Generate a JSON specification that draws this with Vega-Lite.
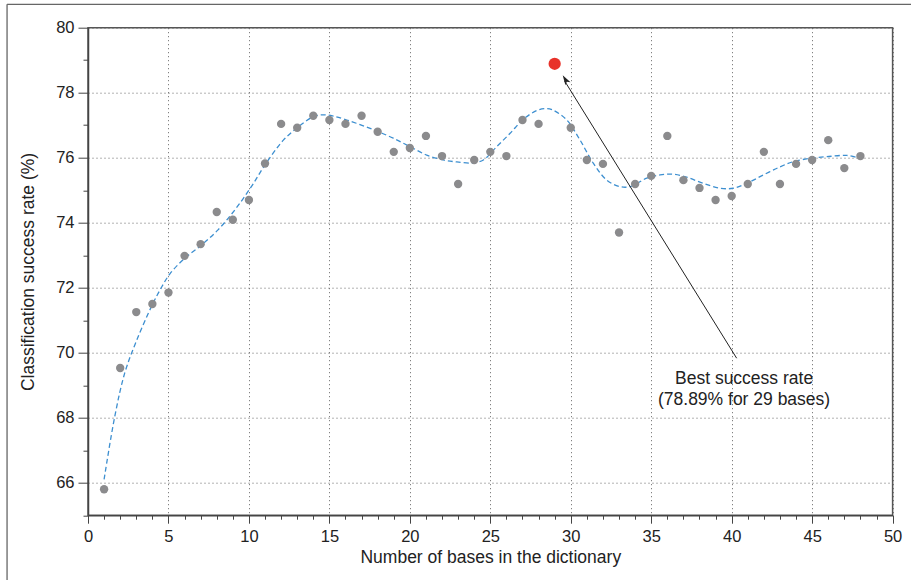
{
  "$schema": "https://vega.github.io/schema/vega-lite/v6.json",
  "width": 804.6,
  "height": 487.5,
  "autosize": "none",
  "padding": {"left": 88, "top": 27.7, "right": 18.4, "bottom": 64.8},
  "background": "white",
  "config": {
    "font": "Liberation Sans",
    "view": {"stroke": "#555", "strokeWidth": 1.5},
    "axis": {
      "grid": true, "gridDash": [1, 3], "gridColor": "#666", "gridWidth": 1,
      "domainColor": "#444", "domainWidth": 1.5,
      "tickColor": "#444", "tickWidth": 1,
      "labelFontSize": 16.5, "labelColor": "#222",
      "labelFlush": false, "labelOverlap": false,
      "titleFontSize": 17.5, "titleFontWeight": "normal", "titleColor": "#222"
    }
  },
  "datasets": {
    "rates": [
      {"bases": 1, "rate": 65.80}, {"bases": 2, "rate": 69.53}, {"bases": 3, "rate": 71.25},
      {"bases": 4, "rate": 71.50}, {"bases": 5, "rate": 71.85}, {"bases": 6, "rate": 72.98},
      {"bases": 7, "rate": 73.34}, {"bases": 8, "rate": 74.33}, {"bases": 9, "rate": 74.09},
      {"bases": 10, "rate": 74.70}, {"bases": 11, "rate": 75.82}, {"bases": 12, "rate": 77.04},
      {"bases": 13, "rate": 76.92}, {"bases": 14, "rate": 77.29}, {"bases": 15, "rate": 77.16},
      {"bases": 16, "rate": 77.04}, {"bases": 17, "rate": 77.29}, {"bases": 18, "rate": 76.80},
      {"bases": 19, "rate": 76.18}, {"bases": 20, "rate": 76.30}, {"bases": 21, "rate": 76.67},
      {"bases": 22, "rate": 76.05}, {"bases": 23, "rate": 75.19}, {"bases": 24, "rate": 75.93},
      {"bases": 25, "rate": 76.18}, {"bases": 26, "rate": 76.05}, {"bases": 27, "rate": 77.16},
      {"bases": 28, "rate": 77.04}, {"bases": 29, "rate": 78.89}, {"bases": 30, "rate": 76.92},
      {"bases": 31, "rate": 75.93}, {"bases": 32, "rate": 75.81}, {"bases": 33, "rate": 73.70},
      {"bases": 34, "rate": 75.19}, {"bases": 35, "rate": 75.44}, {"bases": 36, "rate": 76.67},
      {"bases": 37, "rate": 75.31}, {"bases": 38, "rate": 75.07}, {"bases": 39, "rate": 74.70},
      {"bases": 40, "rate": 74.82}, {"bases": 41, "rate": 75.19}, {"bases": 42, "rate": 76.18},
      {"bases": 43, "rate": 75.19}, {"bases": 44, "rate": 75.81}, {"bases": 45, "rate": 75.93},
      {"bases": 46, "rate": 76.54}, {"bases": 47, "rate": 75.68}, {"bases": 48, "rate": 76.05}
    ],
    "fit": [
      {"bases": 1.0, "rate": 66.10}, {"bases": 1.66, "rate": 68.03}, {"bases": 2.28, "rate": 69.37},
      {"bases": 3.0, "rate": 70.35}, {"bases": 4.0, "rate": 71.48}, {"bases": 4.5, "rate": 71.95},
      {"bases": 5.08, "rate": 72.42}, {"bases": 6.0, "rate": 72.90}, {"bases": 7.05, "rate": 73.31},
      {"bases": 8.08, "rate": 73.78}, {"bases": 9.12, "rate": 74.39}, {"bases": 10.15, "rate": 75.11},
      {"bases": 11.0, "rate": 75.78}, {"bases": 12.14, "rate": 76.54}, {"bases": 13.07, "rate": 76.95},
      {"bases": 14.0, "rate": 77.26}, {"bases": 14.62, "rate": 77.32}, {"bases": 15.25, "rate": 77.28},
      {"bases": 16.08, "rate": 77.16}, {"bases": 17.11, "rate": 76.98}, {"bases": 18.04, "rate": 76.80},
      {"bases": 18.97, "rate": 76.60}, {"bases": 20.01, "rate": 76.34}, {"bases": 21.05, "rate": 76.08},
      {"bases": 22.08, "rate": 75.93}, {"bases": 22.92, "rate": 75.87}, {"bases": 23.95, "rate": 75.84},
      {"bases": 24.57, "rate": 75.93}, {"bases": 25.4, "rate": 76.34}, {"bases": 26.23, "rate": 76.75},
      {"bases": 27.05, "rate": 77.18}, {"bases": 27.89, "rate": 77.45}, {"bases": 28.51, "rate": 77.51},
      {"bases": 28.92, "rate": 77.46}, {"bases": 29.75, "rate": 77.16}, {"bases": 30.58, "rate": 76.54},
      {"bases": 31.4, "rate": 75.83}, {"bases": 32.24, "rate": 75.31}, {"bases": 33.06, "rate": 75.11},
      {"bases": 33.69, "rate": 75.11}, {"bases": 34.72, "rate": 75.37}, {"bases": 35.55, "rate": 75.47},
      {"bases": 36.38, "rate": 75.49}, {"bases": 37.21, "rate": 75.40}, {"bases": 38.24, "rate": 75.21},
      {"bases": 39.28, "rate": 75.06}, {"bases": 40.1, "rate": 75.06}, {"bases": 40.94, "rate": 75.21},
      {"bases": 41.97, "rate": 75.47}, {"bases": 43.01, "rate": 75.72}, {"bases": 43.84, "rate": 75.88},
      {"bases": 44.87, "rate": 75.98}, {"bases": 45.91, "rate": 76.03}, {"bases": 47.15, "rate": 76.07},
      {"bases": 47.98, "rate": 75.98}
    ]
  },
  "layer": [
    {
      "data": {"name": "fit"},
      "mark": {"type": "line", "interpolate": "catmull-rom", "color": "#3d8fd0", "strokeWidth": 1.3, "strokeDash": [5, 3]},
      "encoding": {
        "x": {
          "field": "bases", "type": "quantitative",
          "scale": {"domain": [0, 50], "nice": false, "zero": false},
          "axis": {
            "title": "Number of bases in the dictionary",
            "values": [0,1,2,3,4,5,6,7,8,9,10,11,12,13,14,15,16,17,18,19,20,21,22,23,24,25,26,27,28,29,30,31,32,33,34,35,36,37,38,39,40,41,42,43,44,45,46,47,48,49,50],
            "labelExpr": "datum.value % 5 === 0 ? datum.label : ''",
            "tickSize": {"condition": {"test": "datum.value % 5 === 0", "value": 8}, "value": 4},
            "gridOpacity": {"condition": {"test": "datum.value % 5 === 0", "value": 1}, "value": 0},
            "labelPadding": 5, "titlePadding": 4
          }
        },
        "y": {
          "field": "rate", "type": "quantitative",
          "scale": {"domain": [65, 80], "nice": false, "zero": false},
          "axis": {
            "title": "Classification success rate (%)",
            "values": [65,66,67,68,69,70,71,72,73,74,75,76,77,78,79,80],
            "labelExpr": "datum.value % 2 === 0 ? datum.label : ''",
            "tickSize": {"condition": {"test": "datum.value % 2 === 0", "value": 10}, "value": 5},
            "gridOpacity": {"condition": {"test": "datum.value % 2 === 0", "value": 1}, "value": 0},
            "labelPadding": 4, "titlePadding": 18
          }
        }
      }
    },
    {
      "data": {"name": "rates"},
      "transform": [{"filter": "datum.bases !== 29"}],
      "mark": {"type": "circle", "size": 70, "color": "#8b8b8d", "opacity": 1},
      "encoding": {
        "x": {
          "field": "bases", "type": "quantitative",
          "scale": {"domain": [0, 50], "nice": false, "zero": false},
          "axis": {
            "title": "Number of bases in the dictionary",
            "values": [0,1,2,3,4,5,6,7,8,9,10,11,12,13,14,15,16,17,18,19,20,21,22,23,24,25,26,27,28,29,30,31,32,33,34,35,36,37,38,39,40,41,42,43,44,45,46,47,48,49,50],
            "labelExpr": "datum.value % 5 === 0 ? datum.label : ''",
            "tickSize": {"condition": {"test": "datum.value % 5 === 0", "value": 8}, "value": 4},
            "gridOpacity": {"condition": {"test": "datum.value % 5 === 0", "value": 1}, "value": 0},
            "labelPadding": 5, "titlePadding": 4
          }
        },
        "y": {
          "field": "rate", "type": "quantitative",
          "scale": {"domain": [65, 80], "nice": false, "zero": false},
          "axis": {
            "title": "Classification success rate (%)",
            "values": [65,66,67,68,69,70,71,72,73,74,75,76,77,78,79,80],
            "labelExpr": "datum.value % 2 === 0 ? datum.label : ''",
            "tickSize": {"condition": {"test": "datum.value % 2 === 0", "value": 10}, "value": 5},
            "gridOpacity": {"condition": {"test": "datum.value % 2 === 0", "value": 1}, "value": 0},
            "labelPadding": 4, "titlePadding": 18
          }
        }
      }
    },
    {
      "data": {"name": "rates"},
      "transform": [{"filter": "datum.bases === 29"}],
      "mark": {"type": "circle", "size": 150, "color": "#e8322a", "opacity": 1},
      "encoding": {
        "x": {
          "field": "bases", "type": "quantitative",
          "scale": {"domain": [0, 50], "nice": false, "zero": false},
          "axis": {
            "title": "Number of bases in the dictionary",
            "values": [0,1,2,3,4,5,6,7,8,9,10,11,12,13,14,15,16,17,18,19,20,21,22,23,24,25,26,27,28,29,30,31,32,33,34,35,36,37,38,39,40,41,42,43,44,45,46,47,48,49,50],
            "labelExpr": "datum.value % 5 === 0 ? datum.label : ''",
            "tickSize": {"condition": {"test": "datum.value % 5 === 0", "value": 8}, "value": 4},
            "gridOpacity": {"condition": {"test": "datum.value % 5 === 0", "value": 1}, "value": 0},
            "labelPadding": 5, "titlePadding": 4
          }
        },
        "y": {
          "field": "rate", "type": "quantitative",
          "scale": {"domain": [65, 80], "nice": false, "zero": false},
          "axis": {
            "title": "Classification success rate (%)",
            "values": [65,66,67,68,69,70,71,72,73,74,75,76,77,78,79,80],
            "labelExpr": "datum.value % 2 === 0 ? datum.label : ''",
            "tickSize": {"condition": {"test": "datum.value % 2 === 0", "value": 10}, "value": 5},
            "gridOpacity": {"condition": {"test": "datum.value % 2 === 0", "value": 1}, "value": 0},
            "labelPadding": 4, "titlePadding": 18
          }
        }
      }
    },
    {
      "data": {"values": [{}]},
      "mark": {"type": "rule", "color": "#222", "strokeWidth": 1},
      "encoding": {
        "x": {
          "datum": 40.31, "type": "quantitative",
          "scale": {"domain": [0, 50], "nice": false, "zero": false},
          "axis": {
            "title": "Number of bases in the dictionary",
            "values": [0,1,2,3,4,5,6,7,8,9,10,11,12,13,14,15,16,17,18,19,20,21,22,23,24,25,26,27,28,29,30,31,32,33,34,35,36,37,38,39,40,41,42,43,44,45,46,47,48,49,50],
            "labelExpr": "datum.value % 5 === 0 ? datum.label : ''",
            "tickSize": {"condition": {"test": "datum.value % 5 === 0", "value": 8}, "value": 4},
            "gridOpacity": {"condition": {"test": "datum.value % 5 === 0", "value": 1}, "value": 0},
            "labelPadding": 5, "titlePadding": 4
          }
        },
        "y": {
          "datum": 69.83, "type": "quantitative",
          "scale": {"domain": [65, 80], "nice": false, "zero": false},
          "axis": {
            "title": "Classification success rate (%)",
            "values": [65,66,67,68,69,70,71,72,73,74,75,76,77,78,79,80],
            "labelExpr": "datum.value % 2 === 0 ? datum.label : ''",
            "tickSize": {"condition": {"test": "datum.value % 2 === 0", "value": 10}, "value": 5},
            "gridOpacity": {"condition": {"test": "datum.value % 2 === 0", "value": 1}, "value": 0},
            "labelPadding": 4, "titlePadding": 18
          }
        },
        "x2": {"datum": 29.62},
        "y2": {"datum": 78.36}
      }
    },
    {
      "data": {"values": [{}]},
      "mark": {"type": "point", "shape": "M0,0L-0.45,1.5L0,1.15L0.45,1.5Z", "filled": true, "color": "#222", "opacity": 1, "size": 180, "angle": 328.45},
      "encoding": {
        "x": {
          "datum": 29.50, "type": "quantitative",
          "scale": {"domain": [0, 50], "nice": false, "zero": false},
          "axis": {
            "title": "Number of bases in the dictionary",
            "values": [0,1,2,3,4,5,6,7,8,9,10,11,12,13,14,15,16,17,18,19,20,21,22,23,24,25,26,27,28,29,30,31,32,33,34,35,36,37,38,39,40,41,42,43,44,45,46,47,48,49,50],
            "labelExpr": "datum.value % 5 === 0 ? datum.label : ''",
            "tickSize": {"condition": {"test": "datum.value % 5 === 0", "value": 8}, "value": 4},
            "gridOpacity": {"condition": {"test": "datum.value % 5 === 0", "value": 1}, "value": 0},
            "labelPadding": 5, "titlePadding": 4
          }
        },
        "y": {
          "datum": 78.54, "type": "quantitative",
          "scale": {"domain": [65, 80], "nice": false, "zero": false},
          "axis": {
            "title": "Classification success rate (%)",
            "values": [65,66,67,68,69,70,71,72,73,74,75,76,77,78,79,80],
            "labelExpr": "datum.value % 2 === 0 ? datum.label : ''",
            "tickSize": {"condition": {"test": "datum.value % 2 === 0", "value": 10}, "value": 5},
            "gridOpacity": {"condition": {"test": "datum.value % 2 === 0", "value": 1}, "value": 0},
            "labelPadding": 4, "titlePadding": 18
          }
        }
      }
    },
    {
      "data": {"values": [{}]},
      "mark": {"type": "text", "fontSize": 17.5, "color": "#222", "align": "center", "baseline": "middle", "lineHeight": 20.6},
      "encoding": {
        "x": {
          "datum": 40.77, "type": "quantitative",
          "scale": {"domain": [0, 50], "nice": false, "zero": false},
          "axis": {
            "title": "Number of bases in the dictionary",
            "values": [0,1,2,3,4,5,6,7,8,9,10,11,12,13,14,15,16,17,18,19,20,21,22,23,24,25,26,27,28,29,30,31,32,33,34,35,36,37,38,39,40,41,42,43,44,45,46,47,48,49,50],
            "labelExpr": "datum.value % 5 === 0 ? datum.label : ''",
            "tickSize": {"condition": {"test": "datum.value % 5 === 0", "value": 8}, "value": 4},
            "gridOpacity": {"condition": {"test": "datum.value % 5 === 0", "value": 1}, "value": 0},
            "labelPadding": 5, "titlePadding": 4
          }
        },
        "y": {
          "datum": 69.19, "type": "quantitative",
          "scale": {"domain": [65, 80], "nice": false, "zero": false},
          "axis": {
            "title": "Classification success rate (%)",
            "values": [65,66,67,68,69,70,71,72,73,74,75,76,77,78,79,80],
            "labelExpr": "datum.value % 2 === 0 ? datum.label : ''",
            "tickSize": {"condition": {"test": "datum.value % 2 === 0", "value": 10}, "value": 5},
            "gridOpacity": {"condition": {"test": "datum.value % 2 === 0", "value": 1}, "value": 0},
            "labelPadding": 4, "titlePadding": 18
          }
        },
        "text": {"value": ["Best success rate", "(78.89% for 29 bases)"]}
      }
    },
    {
      "data": {"values": [{}]},
      "mark": {"type": "rule", "color": "#666", "strokeWidth": 1.3},
      "encoding": {
        "x": {
          "datum": -5.03, "type": "quantitative",
          "scale": {"domain": [0, 50], "nice": false, "zero": false},
          "axis": {
            "title": "Number of bases in the dictionary",
            "values": [0,1,2,3,4,5,6,7,8,9,10,11,12,13,14,15,16,17,18,19,20,21,22,23,24,25,26,27,28,29,30,31,32,33,34,35,36,37,38,39,40,41,42,43,44,45,46,47,48,49,50],
            "labelExpr": "datum.value % 5 === 0 ? datum.label : ''",
            "tickSize": {"condition": {"test": "datum.value % 5 === 0", "value": 8}, "value": 4},
            "gridOpacity": {"condition": {"test": "datum.value % 5 === 0", "value": 1}, "value": 0},
            "labelPadding": 5, "titlePadding": 4
          }
        },
        "y": {
          "datum": 80.72, "type": "quantitative",
          "scale": {"domain": [65, 80], "nice": false, "zero": false},
          "axis": {
            "title": "Classification success rate (%)",
            "values": [65,66,67,68,69,70,71,72,73,74,75,76,77,78,79,80],
            "labelExpr": "datum.value % 2 === 0 ? datum.label : ''",
            "tickSize": {"condition": {"test": "datum.value % 2 === 0", "value": 10}, "value": 5},
            "gridOpacity": {"condition": {"test": "datum.value % 2 === 0", "value": 1}, "value": 0},
            "labelPadding": 4, "titlePadding": 18
          }
        },
        "y2": {"datum": 62.5}
      }
    },
    {
      "data": {"values": [{}]},
      "mark": {"type": "rule", "color": "#666", "strokeWidth": 1.3},
      "encoding": {
        "x": {
          "datum": -5.03, "type": "quantitative",
          "scale": {"domain": [0, 50], "nice": false, "zero": false},
          "axis": {
            "title": "Number of bases in the dictionary",
            "values": [0,1,2,3,4,5,6,7,8,9,10,11,12,13,14,15,16,17,18,19,20,21,22,23,24,25,26,27,28,29,30,31,32,33,34,35,36,37,38,39,40,41,42,43,44,45,46,47,48,49,50],
            "labelExpr": "datum.value % 5 === 0 ? datum.label : ''",
            "tickSize": {"condition": {"test": "datum.value % 5 === 0", "value": 8}, "value": 4},
            "gridOpacity": {"condition": {"test": "datum.value % 5 === 0", "value": 1}, "value": 0},
            "labelPadding": 5, "titlePadding": 4
          }
        },
        "x2": {"datum": 51.5},
        "y": {
          "datum": 80.72, "type": "quantitative",
          "scale": {"domain": [65, 80], "nice": false, "zero": false},
          "axis": {
            "title": "Classification success rate (%)",
            "values": [65,66,67,68,69,70,71,72,73,74,75,76,77,78,79,80],
            "labelExpr": "datum.value % 2 === 0 ? datum.label : ''",
            "tickSize": {"condition": {"test": "datum.value % 2 === 0", "value": 10}, "value": 5},
            "gridOpacity": {"condition": {"test": "datum.value % 2 === 0", "value": 1}, "value": 0},
            "labelPadding": 4, "titlePadding": 18
          }
        }
      }
    }
  ]
}
